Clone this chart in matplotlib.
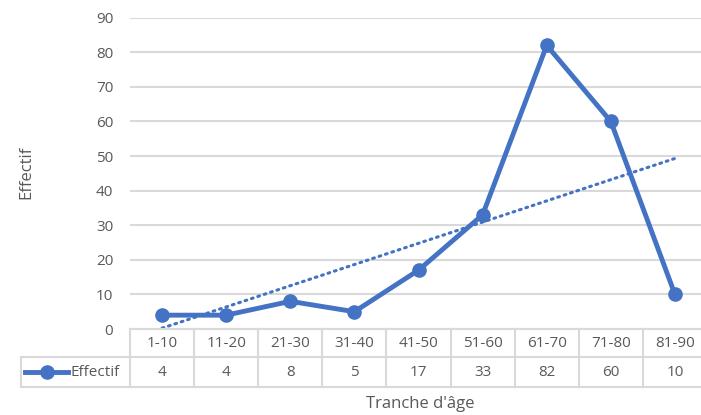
import numpy as np
import matplotlib
matplotlib.use("Agg")
import matplotlib.pyplot as plt
from matplotlib.transforms import blended_transform_factory
from matplotlib.lines import Line2D

categories = ["1-10", "11-20", "21-30", "31-40", "41-50", "51-60", "61-70", "71-80", "81-90"]
effectif = [4, 4, 8, 5, 17, 33, 82, 60, 10]
yticks = [0, 10, 20, 30, 40, 50, 60, 70, 80, 90]
series_name = "Effectif"
xlabel = "Tranche d'âge"
ylabel = "Effectif"

BLUE = "#4472C4"
GRID = "#D9D9D9"
TXT = "#595959"
FONT = "Open Sans"
FS = 11

W, H = 701, 415
fig = plt.figure(figsize=(W / 100, H / 100), dpi=100)

left, right, top, bottom = 130, 707, 17.7, 329
ax = fig.add_axes([left / W, 1 - bottom / H, (right - left) / W, (bottom - top) / H])

x = np.arange(len(categories))
ax.set_xlim(-0.5, len(categories) - 0.5)
ax.set_ylim(0, 90)
ax.set_yticks(yticks)
ax.set_xticks([])
for s in ax.spines.values():
    s.set_visible(False)
ax.tick_params(axis="y", length=0, pad=12, labelsize=FS, labelcolor=TXT)
for lab in ax.get_yticklabels():
    lab.set_fontfamily(FONT)
ax.yaxis.grid(True, color=GRID, linewidth=1.5)
ax.set_axisbelow(True)

# trend line (linear fit of the series)
coef = np.polyfit(x + 1, effectif, 1)
trend = np.polyval(coef, x + 1)
ax.plot(x, trend, color=BLUE, linewidth=2.2, linestyle=(0, (0.6, 1.6)),
        dash_capstyle="round", zorder=2)

ax.plot(x, effectif, color=BLUE, linewidth=3.5, marker="o", markersize=9.5,
        solid_joinstyle="round", zorder=3, clip_on=False)

# data table
tr = blended_transform_factory(ax.transData, fig.transFigure)
lw = 1.5
y0, y1, y2 = 329, 357, 387
legend_left = 21

def fy(y):
    return 1 - y / H

def fx(xp):
    return xp / W

fig.add_artist(Line2D([fx(left), fx(right + 5)], [fy(y0), fy(y0)], color=GRID, lw=lw))
for yy in (y1, y2):
    fig.add_artist(Line2D([fx(legend_left), fx(right + 5)], [fy(yy), fy(yy)], color=GRID, lw=lw))
for i in range(len(categories) + 1):
    xv = i - 0.5
    ax.add_line(Line2D([xv, xv], [fy(y0), fy(y2)], transform=tr, color=GRID, lw=lw, clip_on=False))
fig.add_artist(Line2D([fx(legend_left), fx(legend_left)], [fy(y1), fy(y2)], color=GRID, lw=lw))

for i, (c, v) in enumerate(zip(categories, effectif)):
    ax.text(i, fy((y0 + y1) / 2), c, transform=tr, ha="center", va="center",
            fontsize=FS, color=TXT, family=FONT)
    ax.text(i, fy((y1 + y2) / 2), str(v), transform=tr, ha="center", va="center",
            fontsize=FS, color=TXT, family=FONT)

ym = fy((y1 + y2) / 2)
fig.add_artist(Line2D([fx(25), fx(68)], [ym, ym], color=BLUE, lw=3.5))
fig.add_artist(Line2D([fx(47)], [ym], color=BLUE, marker="o", markersize=9.5))
fig.text(fx(70), ym, series_name, ha="left", va="center", fontsize=FS, color=TXT, family=FONT)

fig.text(fx((left + right) / 2 + 2), fy(404), xlabel, ha="center", va="center",
         fontsize=FS + 1, color=TXT, family=FONT)
fig.text(fx(26), fy(172), ylabel, ha="center", va="center", rotation=90,
         fontsize=FS + 1, color=TXT, family=FONT)

fig.savefig("out.png", dpi=100)
